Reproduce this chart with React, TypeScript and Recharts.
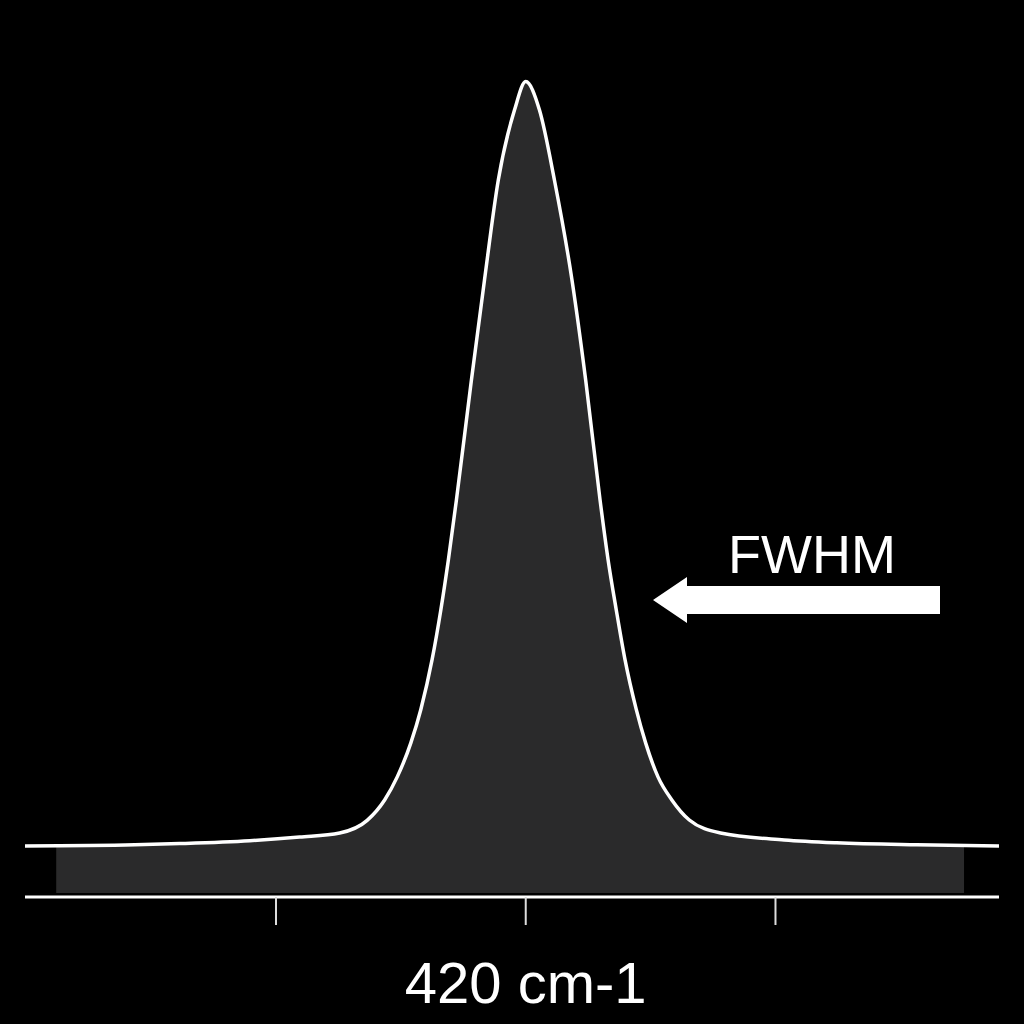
import { ComposedChart, Area, Line, XAxis, YAxis } from 'recharts';

// peak profile (wavenumber in cm-1, relative intensity)
const wavenumbers = [
  379.9, 388.7, 392.3, 397.9, 401.9, 405.1, 407.3, 408.7, 409.7, 410.8, 411.6, 412.5, 413.2, 413.8,
  414.45, 415.65, 416.7, 417.8, 419.1, 420.0, 421.1, 422.3, 423.7, 424.8, 425.95, 426.6,
  427.25, 427.95, 428.85, 429.6, 430.6, 431.7, 433.1, 435.6, 440.7, 444.9, 451.3, 457.9,
];
const intensities = [
  0.0625, 0.064, 0.0655, 0.069, 0.0735, 0.0785, 0.094, 0.119, 0.147, 0.189, 0.23, 0.291, 0.352, 0.413,
  0.487, 0.634, 0.757, 0.879, 0.965, 1.0, 0.965, 0.879, 0.757, 0.634, 0.487, 0.413,
  0.352, 0.291, 0.23, 0.189, 0.147, 0.119, 0.0944, 0.0785, 0.07, 0.0665, 0.064, 0.0625,
];

// the filled band stops short of the plot edges
const fillStart = 382.4;
const fillEnd = 455.1;
const fillEdgeValue = 0.063;

const axisTicks = [400, 420, 440];
const centerLabel = '420 cm-1';

const profile = wavenumbers.map((x, i) => ({ x, y: intensities[i] }));
const filled = [
  { x: fillStart, y: fillEdgeValue },
  ...profile.filter((p) => p.x > fillStart && p.x < fillEnd),
  { x: fillEnd, y: fillEdgeValue },
];

const font = '"Liberation Sans", Arial, sans-serif';

const renderTick = ({ x, y, payload }: any) => (
  <text x={x} y={y} dy={76} textAnchor="middle" fill="#fff" fontSize={58} fontFamily={font}>
    {payload.value === 420 ? centerLabel : ''}
  </text>
);

export default function App() {
  return (
    <div style={{ position: 'absolute', top: 0, left: 0, width: 1024, height: 1024, background: '#000' }}>
      <ComposedChart width={1024} height={1024} data={profile} margin={{ top: 0, right: 25, bottom: 0, left: 25 }}>
        <XAxis
          type="number"
          dataKey="x"
          domain={[379.9, 457.9]}
          ticks={axisTicks}
          allowDataOverflow
          height={127}
          tickSize={28}
          tickMargin={2}
          axisLine={{ stroke: '#fff', strokeWidth: 3 }}
          tickLine={{ stroke: '#ddd', strokeWidth: 2 }}
          tick={renderTick}
        />
        <YAxis hide domain={[0, 1.1]} />
        <Area
          data={filled}
          dataKey="y"
          type="monotone"
          fill="#2a2a2b"
          fillOpacity={1}
          stroke="none"
          baseValue={0.005}
          isAnimationActive={false}
        />
        <Line
          dataKey="y"
          type="monotone"
          stroke="#fff"
          strokeWidth={3.5}
          dot={false}
          isAnimationActive={false}
        />
      </ComposedChart>
      <svg width={1024} height={1024} style={{ position: 'absolute', top: 0, left: 0, pointerEvents: 'none' }}>
        <text x={812} y={573} textAnchor="middle" fill="#fff" fontSize={54} fontFamily={font}>
          FWHM
        </text>
        <polygon points="653,600 687,577 687,586 940,586 940,614 687,614 687,623" fill="#fff" />
      </svg>
    </div>
  );
}
